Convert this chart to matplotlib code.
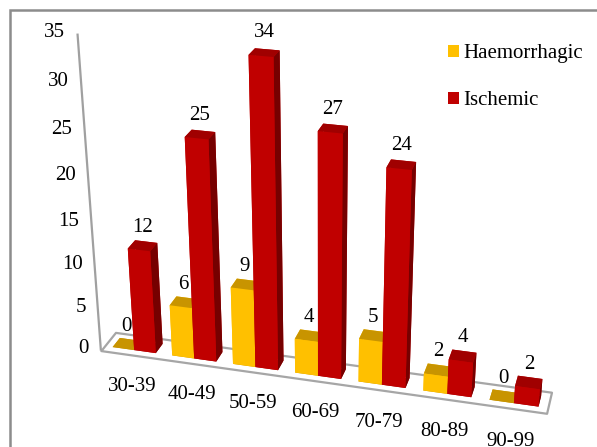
import matplotlib
matplotlib.use("Agg")
import matplotlib.pyplot as plt
from matplotlib.patches import Patch, Rectangle
from mpl_toolkits.mplot3d.art3d import Poly3DCollection, Line3DCollection
import numpy as np

# Stroke cases by age group
categories = ["30-39", "40-49", "50-59", "60-69", "70-79", "80-89", "90-99"]
haemorrhagic = [0, 6, 9, 4, 5, 2, 0]
ischemic = [12, 25, 34, 27, 24, 4, 2]
series_names = ["Haemorrhagic", "Ischemic"]
y_ticks = [0, 5, 10, 15, 20, 25, 30, 35]

plt.rcParams["font.family"] = ["Liberation Serif", "DejaVu Serif"]
FS = 15

fig = plt.figure(figsize=(5.97, 4.47), dpi=100)
ax = fig.add_subplot(projection="3d", proj_type="persp", focal_length=0.6)
ax.set_position([16 / 597, 0.0, 1.0, 1.0])
ax.computed_zorder = False
ax.set_axis_off()

n = len(categories)
zmax = y_ticks[-1]

# floor
floor = Poly3DCollection([[(0, 0, 0), (n, 0, 0), (n, 1, 0), (0, 1, 0)]],
                         facecolor="white", edgecolor="#a6a6a6", linewidth=1.6,
                         zorder=1)
ax.add_collection3d(floor, autolim=False)
floor.set_clip_on(False)
# value axis line at the front-left corner
axis_line = Line3DCollection([[(0, 0, 0), (0, 0, zmax)]], colors="#a0a0a0",
                             linewidths=1.6, zorder=1.5)
ax.add_collection3d(axis_line, autolim=False)
axis_line.set_clip_on(False)

bw = 1 / 2.75
y0, depth = 0.25, 0.5
idx = np.arange(n)
xs = np.concatenate([idx + 0.375 * bw, idx + 0.375 * bw + bw])
vals = np.array(haemorrhagic + ischemic, dtype=float)

yel = dict(front="#FFC000", top="#C89400", side="#B58600")
red = dict(front="#C00000", top="#A00000", side="#760000")
face_colors = []
for k in range(2 * n):
    c = yel if k < n else red
    # bottom, top, -y, +y, -x, +x
    face_colors += [c["top"], c["top"], c["front"], c["front"], c["front"], c["side"]]

bars = ax.bar3d(xs, np.full(2 * n, y0), np.zeros(2 * n), bw, depth, vals,
                color=face_colors, shade=False, linewidth=0, zorder=2)
bars.set_clip_on(False)

# value labels
for x, v in zip(xs, vals):
    ax.text(x + bw / 2, y0 + depth / 2, v + 1.0, f"{int(v)}", ha="center",
            va="bottom", fontsize=FS, zorder=3, clip_on=False)

# value axis tick labels
for t in y_ticks:
    ax.text(-0.2, 0, t, str(t), ha="right", va="center", fontsize=FS,
            zorder=3, clip_on=False)

# category labels
for i, c in enumerate(categories):
    ax.text(i + 0.5, 0, -2.7, c, ha="center", va="top", fontsize=FS,
            zorder=3, clip_on=False)

ax.set_xlim(0, n)
ax.set_ylim(0, 1)
ax.set_zlim(0, zmax)
ax.set_box_aspect((n, 0.6, 5.2), zoom=1.3)
ax.view_init(elev=25, azim=-75)

# legend
handles = [Patch(facecolor=yel["front"], edgecolor="none"),
           Patch(facecolor=red["front"], edgecolor="none")]
fig.legend(handles, series_names, loc="upper left",
           bbox_to_anchor=(440 / 597, 1 - 36 / 447), frameon=False,
           fontsize=FS, handlelength=0.5, handleheight=0.5,
           handletextpad=0.2, labelspacing=1.35, borderaxespad=0)

# chart frame
fig.add_artist(Rectangle((10 / 597, -0.1), 1.2, 1.1 - 10 / 447,
                         transform=fig.transFigure, fill=False,
                         ec="#8c8c8c", lw=1.8))

fig.savefig("out.png", dpi=100)
